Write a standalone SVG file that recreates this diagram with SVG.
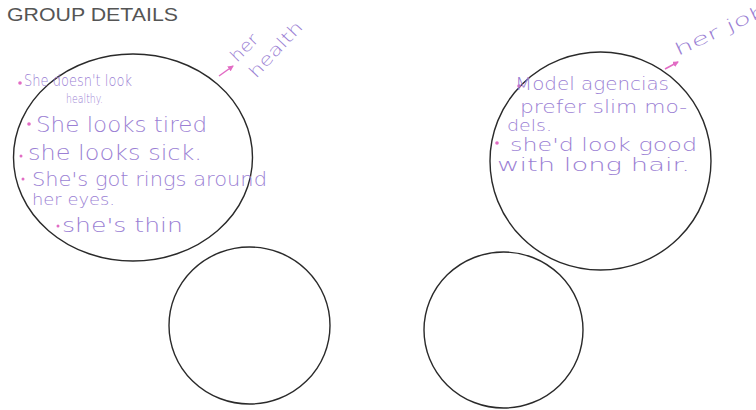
<svg xmlns="http://www.w3.org/2000/svg" width="756" height="410" viewBox="0 0 756 410">
<style>
.c{fill:none;stroke:#2a2a2a;stroke-width:1.4}
.t{font-family:"DejaVu Sans","Liberation Sans",sans-serif;fill:#9b7fd4;font-weight:300}
.b{fill:#e26cc4}
.title{font-family:"Liberation Sans",Arial,sans-serif;font-size:18px;fill:#555}
.ar{stroke:#e26cc4;stroke-width:1.5;fill:none}
</style>
<defs>
<marker id="ah" markerWidth="6" markerHeight="6" refX="5" refY="3" orient="auto" markerUnits="userSpaceOnUse">
<path d="M0,0 L6,3 L0,6 z" fill="#e26cc4"/>
</marker>
</defs>
<rect width="756" height="410" fill="#fff"/>
<text class="title" x="7" y="21" textLength="171" lengthAdjust="spacingAndGlyphs">GROUP DETAILS</text>

<g id="health-circle">
<ellipse class="c" cx="133" cy="157.5" rx="119.5" ry="103.5"/>
<circle class="b" cx="20" cy="83" r="1.8"/>
<text class="t" x="24" y="86" font-size="15" textLength="108" lengthAdjust="spacingAndGlyphs">She doesn't look</text>
<text class="t" x="66" y="102.5" font-size="13" textLength="37" lengthAdjust="spacingAndGlyphs">healthy.</text>
<circle class="b" cx="29" cy="124" r="1.8"/>
<text class="t" x="36" y="132" font-size="21" textLength="171" lengthAdjust="spacingAndGlyphs">She looks tired</text>
<circle class="b" cx="21" cy="156" r="1.5"/>
<text class="t" x="28" y="160" font-size="21" textLength="174" lengthAdjust="spacingAndGlyphs">she looks sick.</text>
<circle class="b" cx="23" cy="179" r="1.5"/>
<text class="t" x="32" y="186" font-size="19" textLength="235" lengthAdjust="spacingAndGlyphs">She's got rings around</text>
<text class="t" x="32" y="205" font-size="16" textLength="83" lengthAdjust="spacingAndGlyphs">her eyes.</text>
<circle class="b" cx="58" cy="226" r="1.5"/>
<text class="t" x="62" y="232" font-size="20" textLength="121" lengthAdjust="spacingAndGlyphs">she's thin</text>
</g>

<g id="job-circle">
<ellipse class="c" cx="600.5" cy="161" rx="110.5" ry="109"/>
<circle class="b" cx="519" cy="86" r="1.8"/>
<text class="t" x="515" y="90" font-size="17" textLength="154" lengthAdjust="spacingAndGlyphs">Model agencias</text>
<text class="t" x="520" y="113" font-size="17" textLength="167" lengthAdjust="spacingAndGlyphs">prefer slim mo-</text>
<text class="t" x="507" y="131" font-size="15" textLength="45" lengthAdjust="spacingAndGlyphs">dels.</text>
<circle class="b" cx="497" cy="143" r="1.8"/>
<text class="t" x="510" y="151" font-size="18" textLength="187" lengthAdjust="spacingAndGlyphs">she'd look good</text>
<text class="t" x="497" y="171" font-size="18" textLength="193" lengthAdjust="spacingAndGlyphs">with long hair.</text>
</g>

<g id="empty-circle-1">
<ellipse class="c" cx="249.5" cy="325.5" rx="80.5" ry="78.5"/>
</g>
<g id="empty-circle-2">
<ellipse class="c" cx="503.5" cy="330" rx="79.5" ry="78"/>
</g>

<g id="label-health">
<text class="t" font-size="17" transform="translate(237,63) rotate(-45)" textLength="32" lengthAdjust="spacingAndGlyphs">her</text>
<text class="t" font-size="17" transform="translate(256,79) rotate(-47)" textLength="70" lengthAdjust="spacingAndGlyphs">health</text>
</g>
<g id="label-job">
<text class="t" font-size="17" transform="translate(678,56) rotate(-25)" textLength="100" lengthAdjust="spacingAndGlyphs">her job</text>
</g>

<g id="connectors">
<line class="ar" x1="219" y1="76" x2="233" y2="66" marker-end="url(#ah)"/>
<line class="ar" x1="665" y1="69" x2="678" y2="62" marker-end="url(#ah)"/>
</g>
</svg>
